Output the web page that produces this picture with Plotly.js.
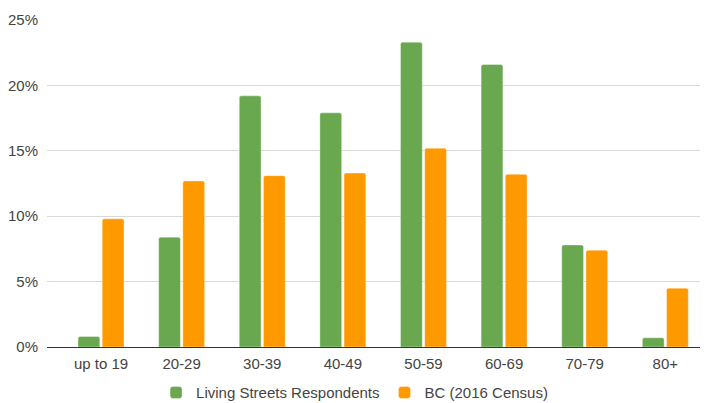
<!DOCTYPE html>
<html>
<head>
<meta charset="utf-8">
<script src="https://cdn.plot.ly/plotly-3.0.1.min.js"></script>
<style>
  html, body { margin: 0; padding: 0; background: #fff; }
  #chart { width: 707px; height: 403px; }
</style>
</head>
<body>
<div id="chart"></div>
<script>
// Age groups
const ageGroups = ["up to 19", "20-29", "30-39", "40-49", "50-59", "60-69", "70-79", "80+"];

// Share of each age group, in percent
const respondents = [0.8, 8.4, 19.2, 17.9, 23.3, 21.6, 7.8, 0.7];
const bcCensus2016 = [9.8, 12.7, 13.1, 13.3, 15.2, 13.2, 7.4, 4.5];

const seriesNames = ["Living Streets Respondents", "BC (2016 Census)"];
const yTicks = [0, 5, 10, 15, 20, 25];

const font = { family: "Liberation Sans, Arial, sans-serif", size: 15, color: "#444" };

const traces = [
  {
    type: "bar",
    name: seriesNames[0],
    x: ageGroups,
    y: respondents,
    marker: { color: "#6aa84f", line: { color: "rgba(255,255,255,0.35)", width: 1 } },
    hoverinfo: "none"
  },
  {
    type: "bar",
    name: seriesNames[1],
    x: ageGroups,
    y: bcCensus2016,
    marker: { color: "#ff9900", line: { color: "rgba(255,255,255,0.35)", width: 1 } },
    hoverinfo: "none"
  }
];

const layout = {
  width: 707,
  height: 403,
  margin: { l: 47, r: 7, t: 19.5, b: 56, autoexpand: false },
  paper_bgcolor: "#fff",
  plot_bgcolor: "#fff",
  font: font,
  barmode: "group",
  bargap: 0.4,
  bargroupgap: 0.1,
  barcornerradius: 2,
  showlegend: true,
  legend: {
    orientation: "h",
    x: 0.471,
    xanchor: "center",
    y: -0.14,
    yanchor: "middle",
    font: font,
    itemclick: false,
    itemdoubleclick: false
  },
  xaxis: {
    type: "category",
    range: [-0.67, 7.43],
    showgrid: false,
    showline: true,
    linecolor: "#333",
    linewidth: 1,
    ticks: "",
    ticklabelstandoff: 3,
    tickfont: font,
    fixedrange: true
  },
  yaxis: {
    range: [0, 25],
    tickvals: yTicks,
    ticktext: yTicks.map(v => v + "%"),
    showgrid: true,
    gridcolor: "#d9d9d9",
    gridwidth: 1,
    zeroline: false,
    showline: false,
    ticks: "",
    ticklabelstandoff: 8,
    tickfont: font,
    fixedrange: true
  }
};

Plotly.newPlot("chart", traces, layout, { displayModeBar: false, staticPlot: true });
</script>
</body>
</html>
